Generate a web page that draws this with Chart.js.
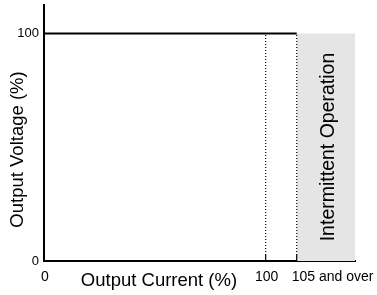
<!DOCTYPE html>
<html>
<head>
<meta charset="utf-8">
<script src="https://cdn.jsdelivr.net/npm/chart.js@4/dist/chart.umd.min.js"></script>
<style>
  html, body { margin: 0; padding: 0; background: #fff; }
  #wrap { width: 377px; height: 295px; position: relative; }
</style>
</head>
<body>
<div id="wrap"><canvas id="vi-chart"></canvas></div>
<script>
// Dữ liệu (đơn vị %)
const ratedCurrent = [0, 105];        // đường điện áp định mức chạy tới 105%
const ratedVoltage = [100, 100];
const guideCurrents = [100, 105];     // hai đường chấm đứng
const xTickValues = [0, 100, 105];
const xTickLabels = ['0', '100', '105 and over'];
const yTickValues = [0, 100];
const yTickLabels = ['0', '100'];
const intermittentFrom = 105;
const bandLabel = 'Intermittent Operation';
const xTitle = 'Output Current (%)';
const yTitle = 'Output Voltage (%)';

// trục x được vẽ gãy: đoạn trên 100% bị giãn ra
const AXIS_END = 140.3;
function brk(v) {
  return v <= 100 ? v : 100 + (v - 100) * 2.8;
}

const FONT = "'Liberation Sans', Arial, Helvetica, sans-serif";
Chart.defaults.font.family = FONT;
Chart.defaults.color = '#000';

const TICK_H = 2.6; // vạch nhỏ ở chân đường chấm

function guideLine(c) {
  return {
    data: [{ x: brk(c), y: 0 }, { x: brk(c), y: TICK_H }, { x: brk(c), y: 100 }],
    borderColor: '#000',
    borderWidth: 1.2,
    pointRadius: 0,
    fill: false,
    order: 1,
    segment: {
      borderDash: function (ctx) { return ctx.p0DataIndex === 0 ? [] : [1, 2]; }
    }
  };
}

// vẽ chữ: nhãn trục x, tiêu đề trục, nhãn vùng xám
const textPlugin = {
  id: 'texts',
  afterDraw: function (chart) {
    const c = chart.ctx;
    const xs = chart.scales.x;
    const a = chart.chartArea;
    c.save();
    c.fillStyle = '#000';
    c.textBaseline = 'middle';

    c.font = '14px ' + FONT;
    xTickValues.forEach(function (v, i) {
      const px = xs.getPixelForValue(brk(v));
      if (i === xTickValues.length - 1) {
        c.textAlign = 'left';
        c.fillText(xTickLabels[i], px - 5, 277);
      } else {
        c.textAlign = 'center';
        c.fillText(xTickLabels[i], px + 1, 277);
      }
    });

    c.font = '18.5px ' + FONT;
    c.textAlign = 'center';
    c.fillText(xTitle, 159, 281);

    c.save();
    c.translate(18, 149.5);
    c.rotate(-Math.PI / 2);
    c.fillText(yTitle, 0, 0);
    c.restore();

    const bx0 = xs.getPixelForValue(brk(intermittentFrom));
    c.save();
    c.font = '19.5px ' + FONT;
    c.translate((bx0 + a.right) / 2 + 3, 147);
    c.rotate(-Math.PI / 2);
    c.fillText(bandLabel, 0, 0);
    c.restore();

    c.restore();
  }
};

const ctx = document.getElementById('vi-chart').getContext('2d');
const chart = new Chart(ctx, {
  type: 'line',
  data: {
    datasets: [
      {
        // vùng hoạt động gián đoạn
        data: [{ x: brk(intermittentFrom), y: 100 }, { x: AXIS_END, y: 100 }],
        backgroundColor: '#e5e5e5',
        borderWidth: 0,
        pointRadius: 0,
        fill: 'origin',
        order: 3
      },
      guideLine(guideCurrents[0]),
      guideLine(guideCurrents[1]),
      {
        data: ratedCurrent.map(function (x, i) { return { x: brk(x), y: ratedVoltage[i] }; }),
        borderColor: '#000',
        borderWidth: 2,
        pointRadius: 0,
        fill: false,
        order: 0
      }
    ]
  },
  options: {
    responsive: true,
    maintainAspectRatio: false,
    animation: false,
    layout: { padding: { top: 5, right: 22, left: 0, bottom: 0 } },
    plugins: { legend: { display: false }, tooltip: { enabled: false } },
    scales: {
      x: {
        type: 'linear',
        min: 0,
        max: AXIS_END,
        grid: { display: false, drawTicks: false },
        border: { display: true, color: '#000', width: 2 },
        ticks: { display: false },
        afterFit: function (s) { s.height = 34; s.paddingLeft = 0; s.paddingRight = 0; }
      },
      y: {
        type: 'linear',
        min: 0,
        max: 112.5,
        grid: { display: false, drawTicks: false },
        border: { display: true, color: '#000', width: 2 },
        afterBuildTicks: function (s) {
          s.ticks = yTickValues.map(function (v) { return { value: v }; });
        },
        ticks: {
          padding: 5,
          font: { size: 13 },
          color: '#000',
          callback: function (v) {
            const i = yTickValues.indexOf(v);
            return i >= 0 ? yTickLabels[i] : '';
          }
        },
        afterFit: function (s) { s.width = 44; s.paddingTop = 0; s.paddingBottom = 0; }
      }
    }
  },
  plugins: [textPlugin]
});
</script>
</body>
</html>
